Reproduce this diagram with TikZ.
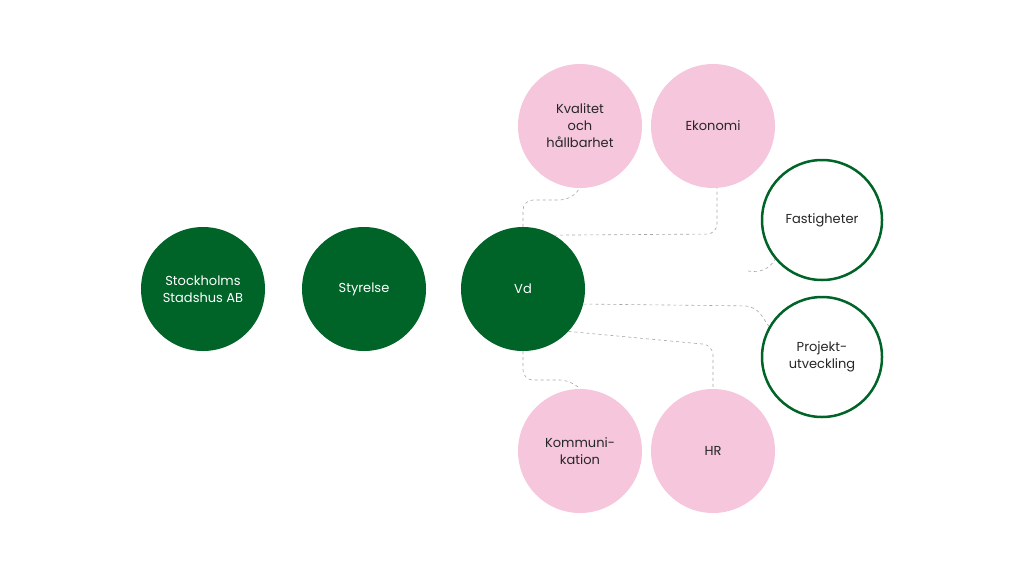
\documentclass[tikz,border=0pt]{standalone}
\usepackage{fontspec}
\setmainfont{Poppins}
\begin{document}
\begin{tikzpicture}[x=1pt,y=-1pt,
  base/.style={circle,minimum size=124pt,inner sep=0pt,align=center,font=\fontsize{13}{17}\selectfont},
  green/.style={base,fill=dkg,text=white},
  pink/.style={base,fill=pk,text=black!85},
  ring/.style={base,minimum size=120pt,draw=dkg,line width=2.5pt,fill=white,text=black!85},
  con/.style={draw=gray!70,dashed,line width=0.6pt,rounded corners=10pt}]
\definecolor{dkg}{HTML}{006428}
\definecolor{pk}{HTML}{F5C6DC}
\useasboundingbox (0,0) rectangle (1024,576);
\node[green] (s) at (203,289) {Stockholms\\Stadshus AB};
\node[green] (st) at (364,289) {Styrelse};
\node[green] (vd) at (523,289) {Vd};
\node[pink] (k) at (580,126) {Kvalitet\\och\\hållbarhet};
\node[pink] (e) at (713,126) {Ekonomi};
\node[ring] (f) at (822,220) {Fastigheter};
\node[ring] (p) at (822,357) {Projekt-\\utveckling};
\node[pink] (ko) at (580,451) {Kommuni-\\kation};
\node[pink] (hr) at (713,451) {HR};
\coordinate (fs) at (748,271);
\draw[con] (vd.north) -- (523,200) -- (570,200) -- (k.south);
\draw[con] (vd.60) -- (717,234) -- (e.south-|717,0);
\draw[con] (fs) to[out=-10,in=240] (f.220);
\draw[con] (vd.-14) -- (755,306) -- (p.150);
\draw[con] (vd.-43) -- (713,345) -- (hr.north);
\draw[con] (vd.south) -- (523,380) -- (570,380) -- (ko.north);
\end{tikzpicture}
\end{document}
